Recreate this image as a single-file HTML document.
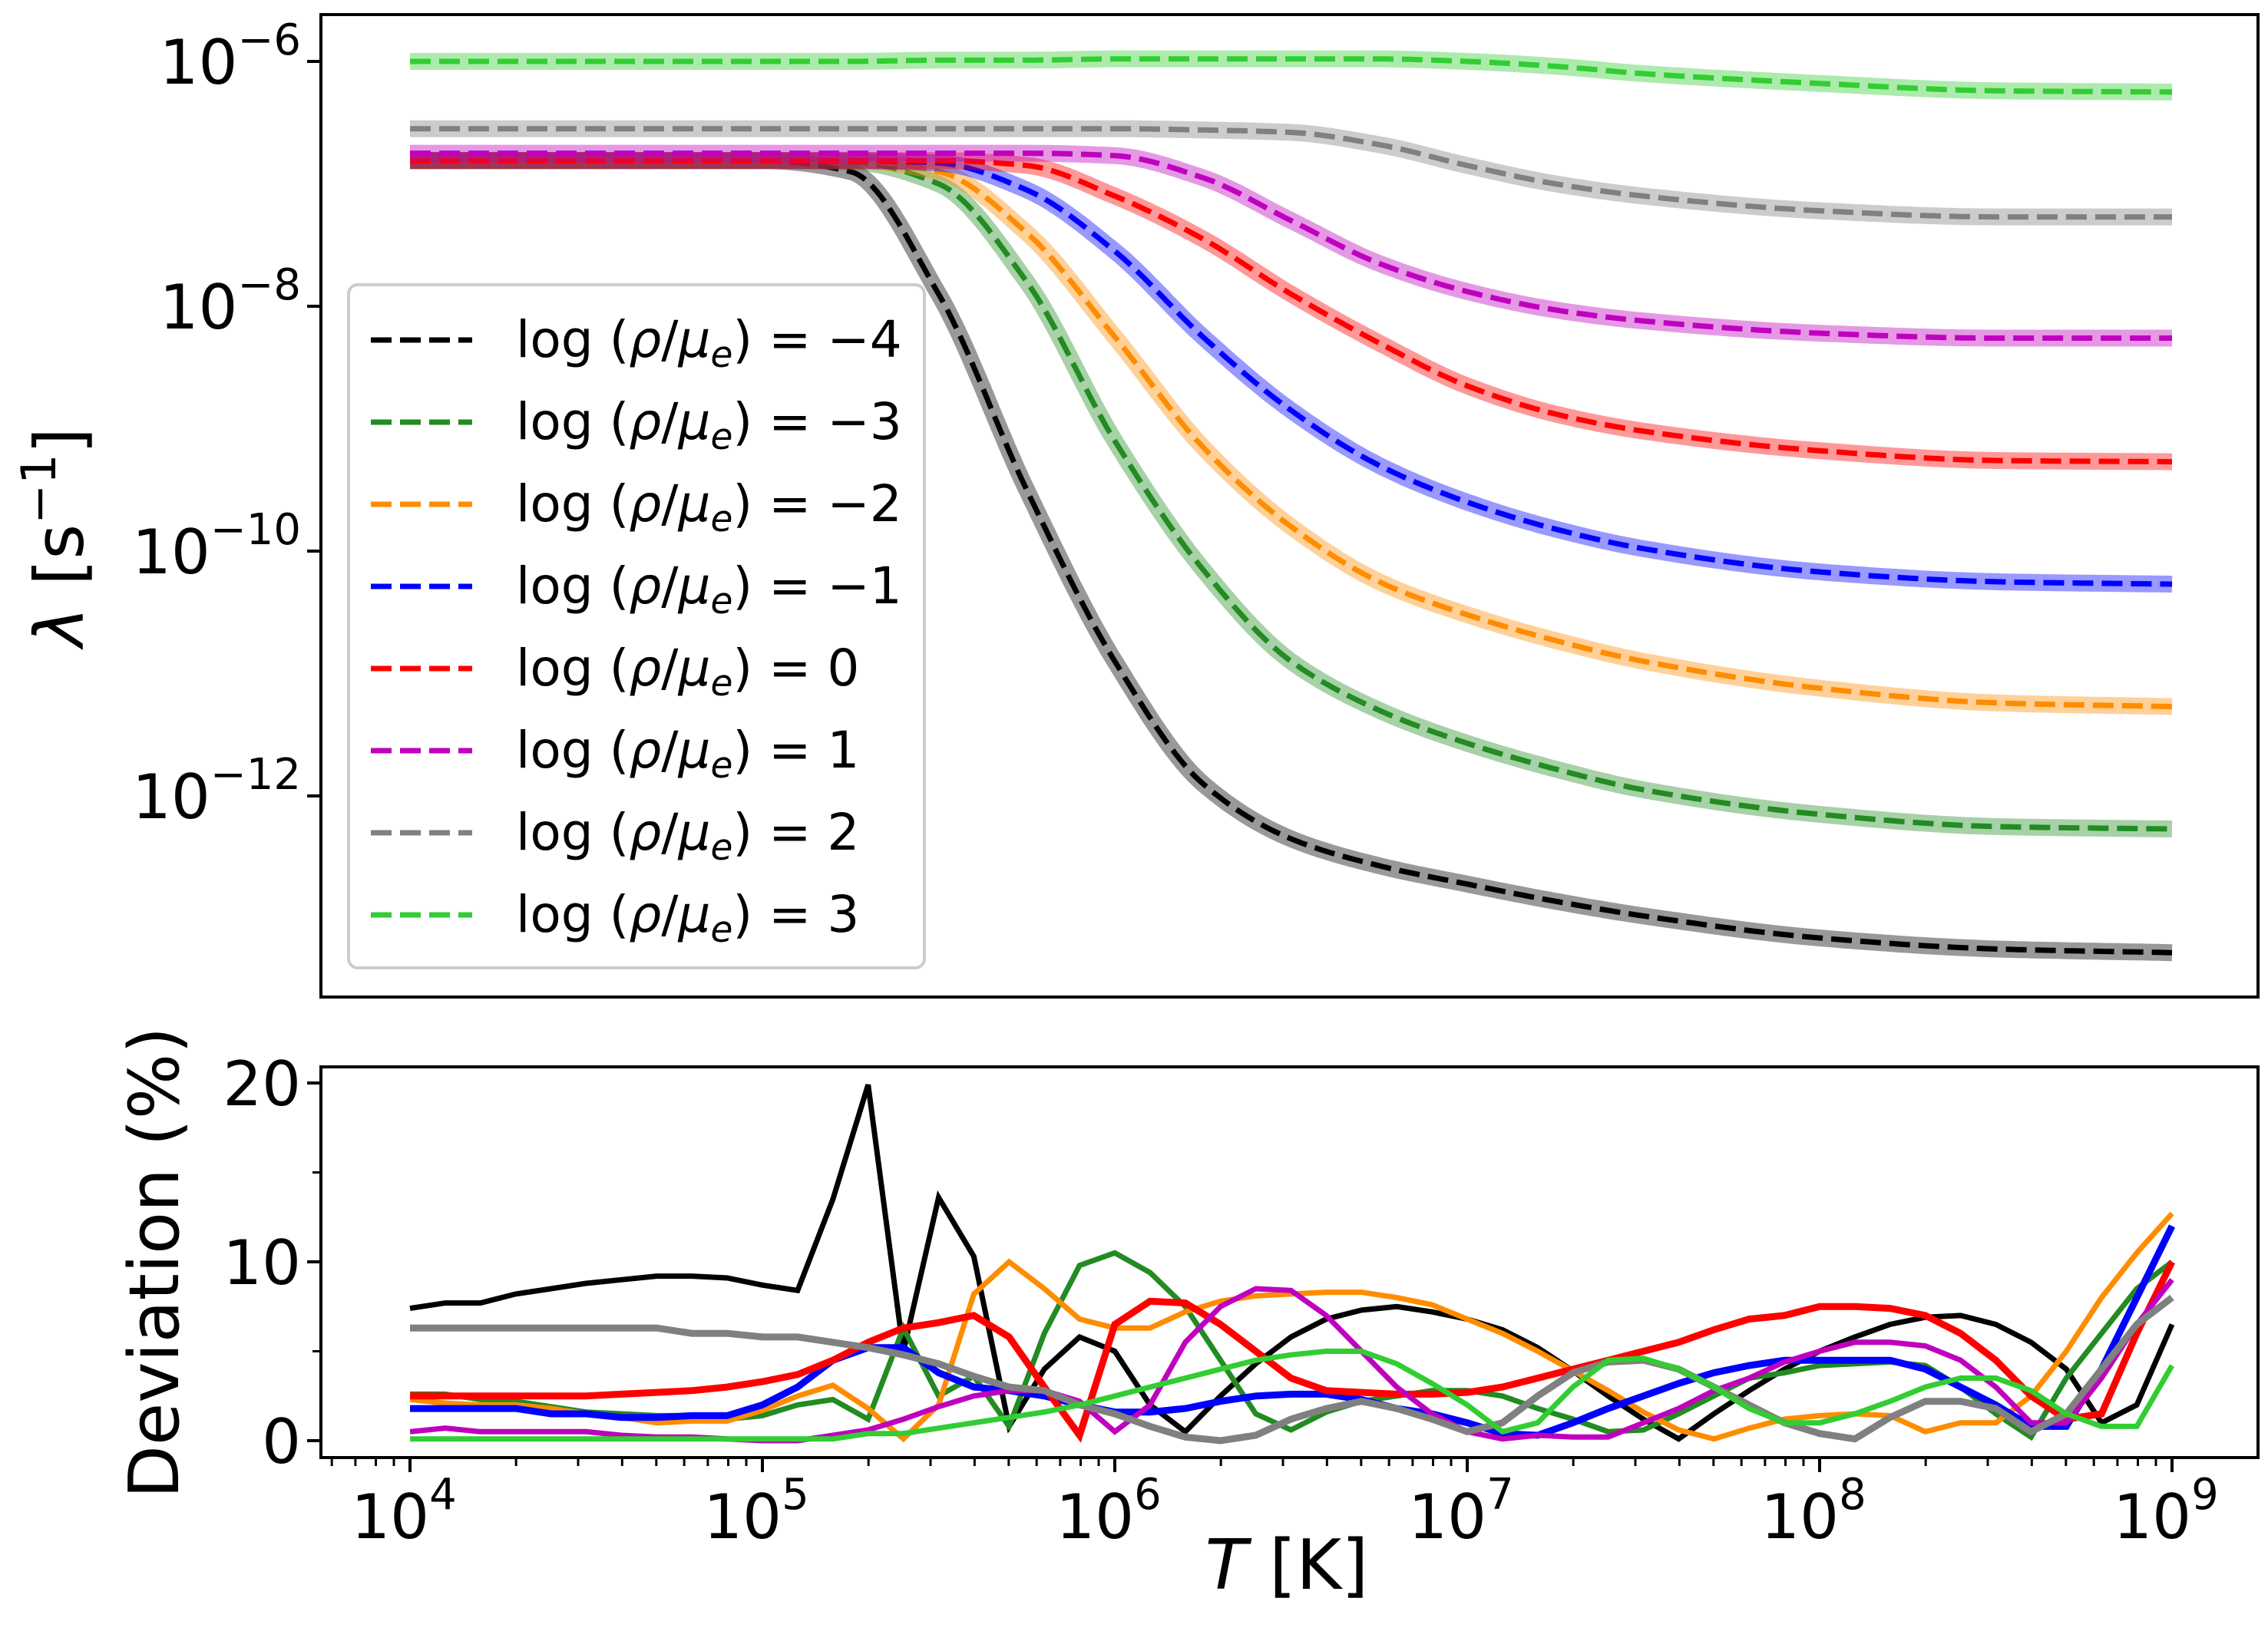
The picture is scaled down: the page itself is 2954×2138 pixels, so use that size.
<!DOCTYPE html>
<html><head><meta charset="utf-8">
<style>
html,body{margin:0;padding:0;background:#fff;}
svg{display:block;font-family:"DejaVu Sans","Liberation Sans",sans-serif;}
</style></head>
<body>
<svg id="fig" width="2954" height="2138" viewBox="0 0 2954 2138" xmlns="http://www.w3.org/2000/svg">
<rect width="2954" height="2138" fill="#fff"/>
<g id="top"></g>
<g id="bot"></g>
</svg>
<script>
// ---- data ----
const topLogT = [4,4.5,5,5.25,5.5,5.75,6,6.25,6.5,6.75,7,7.25,7.5,8,8.5,9];
const seriesLabels = ["\u22124","\u22123","\u22122","\u22121","0","1","2","3"];
const seriesColors = ["#000000","#228b22","#ff8c00","#0000ff","#ff0000","#bf00bf","#808080","#32cd32"];
const logLamM4 = [-6.81,-6.81,-6.81,-6.9,-7.9,-9.5,-10.9,-11.9,-12.35,-12.57,-12.72,-12.86,-12.98,-13.16,-13.25,-13.28];
const logLamM3 = [-6.81,-6.81,-6.81,-6.82,-7.0,-7.8,-9.1,-10.15,-10.9,-11.3,-11.57,-11.78,-11.95,-12.15,-12.25,-12.27];
const logLamM2 = [-6.81,-6.81,-6.81,-6.81,-6.9,-7.4,-8.25,-9.15,-9.8,-10.25,-10.52,-10.73,-10.9,-11.12,-11.24,-11.27];
const logLamM1 = [-6.81,-6.81,-6.81,-6.81,-6.83,-7.05,-7.55,-8.25,-8.85,-9.3,-9.6,-9.82,-9.98,-10.17,-10.25,-10.27];
const logLam0  = [-6.81,-6.81,-6.81,-6.81,-6.81,-6.85,-7.1,-7.45,-7.9,-8.3,-8.65,-8.88,-9.02,-9.18,-9.26,-9.27];
const logLam1  = [-6.75,-6.75,-6.75,-6.75,-6.75,-6.75,-6.77,-6.95,-7.3,-7.65,-7.88,-8.03,-8.12,-8.22,-8.26,-8.26];
const logLam2  = [-6.55,-6.55,-6.55,-6.55,-6.55,-6.55,-6.55,-6.56,-6.58,-6.68,-6.85,-7.0,-7.1,-7.22,-7.27,-7.27];
const logLam3  = [-6.0,-6.0,-6.0,-6.0,-5.99,-5.99,-5.98,-5.98,-5.98,-5.98,-6.0,-6.04,-6.1,-6.18,-6.24,-6.25];
const topSeries = [logLamM4,logLamM3,logLamM2,logLamM1,logLam0,logLam1,logLam2,logLam3];
const topYTicks = [-6,-8,-10,-12];

const devLogT = [];
for (let i=0;i<=50;i++) devLogT.push(4+i*0.1);
const devM4 = [7.4,7.7,7.7,8.2,8.5,8.8,9.0,9.2,9.2,9.1,8.7,8.4,13.5,19.9,5.0,13.6,10.3,0.8,4.0,5.8,5.0,2.0,0.5,2.5,4.3,5.8,6.8,7.3,7.5,7.2,6.8,6.2,5.2,3.9,2.5,1.2,0.1,1.5,2.8,4.0,5.0,5.8,6.5,6.9,7.0,6.5,5.5,4.0,1.0,2.0,6.5];
const devM3 = [2.6,2.6,2.3,2.2,1.9,1.6,1.5,1.4,1.4,1.2,1.4,2.0,2.3,1.2,6.3,2.5,3.6,0.8,6.0,9.8,10.5,9.4,7.5,4.5,1.5,0.6,1.6,2.2,2.5,2.8,2.8,2.5,1.8,1.2,0.5,0.6,1.5,2.5,3.5,3.8,4.2,4.3,4.4,4.2,3.0,1.5,0.2,3.5,6.0,8.5,10.0];
const devM2 = [2.3,2.1,2.0,2.0,1.8,1.5,1.3,1.0,1.1,1.1,1.7,2.5,3.1,1.8,0.1,2.0,8.2,10.0,8.5,6.8,6.3,6.3,7.2,7.8,8.1,8.2,8.3,8.3,8.0,7.6,6.8,6.0,5.0,3.9,2.8,1.6,0.6,0.1,0.7,1.2,1.4,1.5,1.4,0.5,1.0,1.0,2.5,5.0,8.0,10.5,12.7];
const devM1 = [1.8,1.8,1.8,1.8,1.5,1.5,1.3,1.3,1.4,1.4,2.0,3.0,4.5,5.2,5.2,3.8,3.0,2.8,2.5,2.0,1.6,1.6,1.8,2.2,2.5,2.6,2.6,2.3,1.8,1.5,1.0,0.4,0.3,1.0,1.8,2.5,3.2,3.8,4.2,4.5,4.5,4.5,4.5,4.0,3.0,2.0,0.8,0.8,4.0,8.0,12.0];
const dev0  = [2.5,2.5,2.5,2.5,2.5,2.5,2.6,2.7,2.8,3.0,3.3,3.7,4.5,5.5,6.3,6.6,7.0,5.8,3.0,0.3,6.5,7.8,7.7,6.5,5.0,3.5,2.8,2.7,2.6,2.6,2.7,3.0,3.5,4.0,4.5,5.0,5.5,6.2,6.8,7.0,7.5,7.5,7.4,7.0,6.0,4.5,2.5,1.2,1.5,6.0,10.0];
const dev1  = [0.5,0.7,0.5,0.5,0.5,0.5,0.3,0.2,0.2,0.1,0.0,0.0,0.3,0.6,1.2,1.9,2.5,2.8,2.8,2.2,0.5,2.0,5.5,7.5,8.5,8.4,7.0,5.0,3.0,1.5,0.5,0.1,0.3,0.2,0.2,1.0,1.8,2.8,3.5,4.4,5.0,5.5,5.5,5.3,4.5,3.0,1.0,1.0,3.5,6.5,9.0];
const dev2  = [6.3,6.3,6.3,6.3,6.3,6.3,6.3,6.3,6.0,6.0,5.8,5.8,5.5,5.2,4.8,4.3,3.6,3.0,2.8,2.0,1.5,0.8,0.2,0.0,0.3,1.2,1.8,2.2,1.8,1.2,0.5,1.0,2.5,3.8,4.4,4.5,4.0,3.0,2.0,1.0,0.4,0.1,1.3,2.2,2.2,1.8,0.5,1.5,4.0,6.5,8.0];
const dev3  = [0.1,0.1,0.1,0.1,0.1,0.1,0.1,0.1,0.1,0.1,0.1,0.1,0.1,0.4,0.4,0.7,1.0,1.3,1.6,2.0,2.5,3.0,3.5,4.0,4.5,4.8,5.0,5.0,4.3,3.2,2.0,0.5,1.0,3.0,4.5,4.6,4.0,3.0,1.8,1.0,1.0,1.5,2.2,3.0,3.5,3.5,2.8,1.5,0.8,0.8,4.2];
const devSeries = [devM4,devM3,devM2,devM1,dev0,dev1,dev2,dev3];
const devYTicks = [0,10,20];
const devYMinor = [5,15];
const xTickExp = [4,5,6,7,8,9];

// ---- layout ----
const NS="http://www.w3.org/2000/svg";
const X0=418, X1=2941;
const xs = lt => 534 + (lt-4)*459;
const yTop = l => 80 - (l+6)*159.5;
const yBot = v => 1877 - v*23.3;
function el(tag, attrs, parent){const e=document.createElementNS(NS,tag);for(const k in attrs)e.setAttribute(k,attrs[k]);parent.appendChild(e);return e;}
const topG=document.getElementById('top'), botG=document.getElementById('bot');

function smooth(xv, yv){ // monotone cubic (Fritsch-Carlson)
  const n=xv.length, d=[], m=[];
  for(let i=0;i<n-1;i++) d.push((yv[i+1]-yv[i])/(xv[i+1]-xv[i]));
  m[0]=d[0]; m[n-1]=d[n-2];
  for(let i=1;i<n-1;i++){ if(d[i-1]*d[i]<=0) m[i]=0; else { const w1=2*(xv[i+1]-xv[i])+(xv[i]-xv[i-1]), w2=(xv[i+1]-xv[i])+2*(xv[i]-xv[i-1]); m[i]=(w1+w2)/(w1/d[i-1]+w2/d[i]); } }
  const pts=[];
  for(let i=0;i<n-1;i++){
    const h=xv[i+1]-xv[i];
    for(let s=0;s<24;s++){const t=s/24,t2=t*t,t3=t2*t;
      const y=(2*t3-3*t2+1)*yv[i]+(t3-2*t2+t)*h*m[i]+(-2*t3+3*t2)*yv[i+1]+(t3-t2)*h*m[i+1];
      pts.push([xv[i]+t*h,y]);}
  }
  pts.push([xv[n-1],yv[n-1]]);
  return pts;
}

// top frame
el('rect',{x:X0,y:19,width:X1-X0,height:1280,fill:'none',stroke:'#000','stroke-width':4},topG);
topSeries.forEach((s,i)=>{
  const pts=smooth(topLogT,s).map(p=>xs(p[0]).toFixed(1)+','+yTop(p[1]).toFixed(1)).join(' ');
  const band=el('polyline',{points:pts,fill:'none',stroke:seriesColors[i],'stroke-opacity':0.4,'stroke-width':22},topG);
  
  
  const line=el('polyline',{points:pts,fill:'none',stroke:seriesColors[i],'stroke-width':7,'stroke-dasharray':'27 11'},topG);
  
  
});
topYTicks.forEach(t=>{
  el('line',{x1:X0-18,x2:X0,y1:yTop(t),y2:yTop(t),stroke:'#000','stroke-width':4},topG);
  const tx=el('text',{x:X0-26,y:yTop(t)+29,'font-size':80,'text-anchor':'end'},topG);
  
  
  tx.innerHTML='10<tspan dy="-38" font-size="56">\u2212'+(-t)+'</tspan>';
});
const yl=el('text',{x:0,y:0,'font-size':88,'text-anchor':'middle',transform:'translate(108,700) rotate(-90)'},topG);


yl.innerHTML='<tspan font-style="italic">\u03bb</tspan> [s<tspan dy="-36" font-size="62">\u22121</tspan><tspan dy="36">]</tspan>';

// legend
const lg=el('g',{},topG);


el('rect',{x:454,y:371,width:750,height:890,rx:12,fill:'#fff','fill-opacity':0.85,stroke:'#cccccc','stroke-width':4},lg);
seriesLabels.forEach((lab,i)=>{
  const y=443+i*107;
  const e=el('g',{},lg);
  
  
  el('line',{x1:483,x2:615,y1:y,y2:y,stroke:seriesColors[i],'stroke-width':7,'stroke-dasharray':'27 11'},e);
  const t=el('text',{x:672,y:y+22,'font-size':66},e);
  t.innerHTML='log (<tspan font-style="italic">\u03c1</tspan>/<tspan font-style="italic">\u03bc</tspan><tspan font-style="italic" font-size="47" dy="13">e</tspan><tspan dy="-13">) = '+lab+'</tspan>';
});

// bottom frame
el('rect',{x:X0,y:1390,width:X1-X0,height:509,fill:'none',stroke:'#000','stroke-width':4},botG);
devSeries.forEach((s,i)=>{
  const pts=s.map((v,j)=>xs(devLogT[j]).toFixed(1)+','+yBot(v).toFixed(1)).join(' ');
  const p=el('polyline',{points:pts,fill:'none',stroke:seriesColors[i],'stroke-width':(i==3||i==4||i==6)?9:7,'stroke-linejoin':'miter'},botG);
  
  
});
devYTicks.forEach(t=>{
  el('line',{x1:X0-18,x2:X0,y1:yBot(t),y2:yBot(t),stroke:'#000','stroke-width':4},botG);
  const tx=el('text',{x:X0-26,y:yBot(t)+29,'font-size':80,'text-anchor':'end'},botG);
  
  
  tx.textContent=t;
});
devYMinor.forEach(t=>{el('line',{x1:X0-11,x2:X0,y1:yBot(t),y2:yBot(t),stroke:'#000','stroke-width':3},botG);});
for(let e=3;e<=9;e++){
  for(let m=1;m<=9;m++){
    const lt=e+Math.log10(m), x=xs(lt);
    if(x<X0+2||x>X1-2) continue;
    if(m===1){el('line',{x1:x,x2:x,y1:1899,y2:1918,stroke:'#000','stroke-width':4},botG);}
    else el('line',{x1:x,x2:x,y1:1899,y2:1910,stroke:'#000','stroke-width':3},botG);
  }
}
xTickExp.forEach(e=>{
  const tx=el('text',{x:xs(e)-8,y:2004,'font-size':80,'text-anchor':'middle'},botG);
  
  
  tx.innerHTML='10<tspan dy="-38" font-size="56">'+e+'</tspan>';
});
const dl=el('text',{x:0,y:0,'font-size':90,'text-anchor':'middle',transform:'translate(232,1645) rotate(-90)'},botG);


dl.textContent='Deviation (%)';
const xl=el('text',{x:1676,y:2070,'font-size':90,'text-anchor':'middle'},botG);


xl.innerHTML='<tspan font-style="italic">T</tspan> [K]';
</script>
</body></html>
